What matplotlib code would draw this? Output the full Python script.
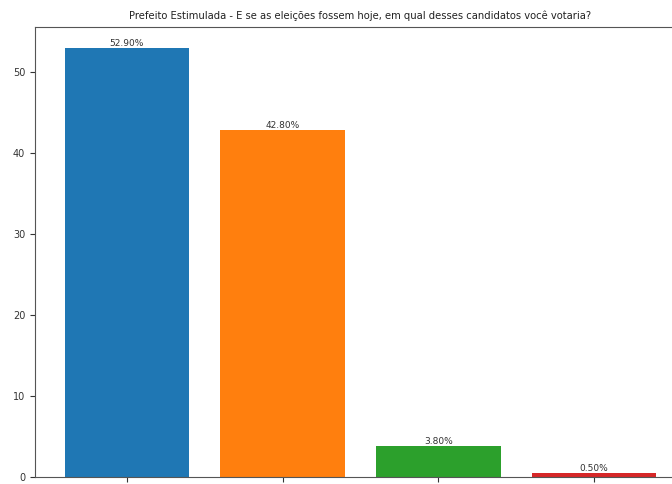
import matplotlib
matplotlib.use("Agg")
import matplotlib.pyplot as plt

categories = ["Edu Nogueira", "William Dourado", "Não Sabe", "Nenhum"]
values = [52.9, 42.8, 3.8, 0.5]
colors = ["#1f77b4", "#ff7f0e", "#2ca02c", "#d62728"]
title = "Prefeito Estimulada - E se as eleições fossem hoje, em qual desses candidatos você votaria?"

fig = plt.figure(figsize=(6.72, 4.84), dpi=100)
ax = fig.add_axes([35/672, 7/484, 651/672, 450/484])
bars = ax.bar(categories, values, color=colors, width=0.8)
for b, v in zip(bars, values):
    ax.text(b.get_x() + b.get_width()/2, b.get_height(), f"{v:.2f}%",
            ha="center", va="bottom", fontsize=6.5, color="#333333")
ax.set_title(title, fontsize=7.2, pad=6, color="#222222")
ax.tick_params(labelsize=7, colors="#333333")
for s in ax.spines.values():
    s.set_color("#555555")
fig.savefig("out.png", dpi=100)
